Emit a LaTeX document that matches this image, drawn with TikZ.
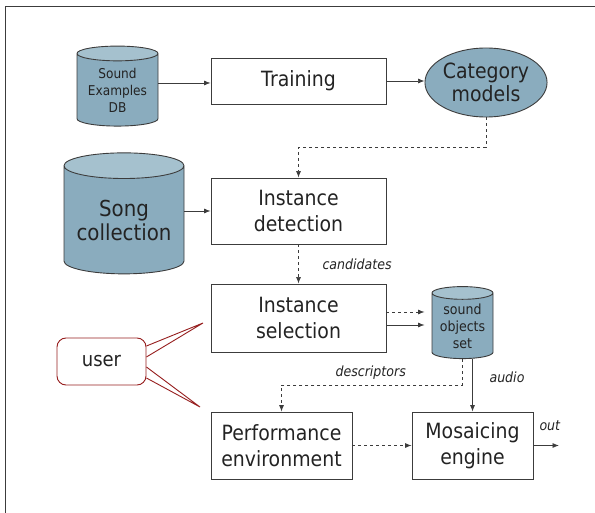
\documentclass[tikz,border=0pt]{standalone}
\usepackage{fontspec}
\setmainfont{DejaVu Sans}[FakeStretch=0.9]
\usetikzlibrary{arrows.meta, positioning, shapes.geometric, calc}
\definecolor{cylblue}{RGB}{138,172,190}
\definecolor{cyltop}{RGB}{165,193,206}
\definecolor{userred}{RGB}{150,30,30}
\definecolor{linegray}{RGB}{60,60,60}
\definecolor{textgray}{RGB}{35,35,35}

\begin{document}
\begin{tikzpicture}[x=1pt, y=-1pt, >={Latex[length=6.5pt,width=5pt]},
  box/.style={draw=linegray, line width=0.9pt, align=center, text=textgray,
    font=\fontsize{21}{26}\selectfont},
  cyl/.style={cylinder, shape border rotate=90, draw=linegray, line width=0.9pt,
    cylinder uses custom fill, cylinder body fill=cylblue, cylinder end fill=cyltop,
    align=center, text=textgray, inner sep=0pt},
  flow/.style={->, linegray, line width=0.7pt},
  dflow/.style={flow, dashed},
  lbl/.style={font=\itshape\fontsize{14}{16}\selectfont, text=textgray, anchor=base west}]
  \useasboundingbox (0,0) rectangle (595,513);
  \draw[linegray, line width=0.9pt] (5,513) -- (5,6) -- (595,6);

  % nodes
  \node[cyl, aspect=0.25, minimum width=81pt, minimum height=80pt,
    font=\fontsize{13.5}{17}\selectfont] (db) at (117.5,90) {Sound\\Examples\\DB};
  \node[box, minimum width=175pt, minimum height=46pt] (train) at (298.5,81) {Training};
  \node[box, ellipse, fill=cylblue, minimum width=108pt, minimum height=69pt, inner sep=0pt,
    font=\fontsize{21}{23}\selectfont] (cat) at (486,82.5) {Category\\models};
  \node[cyl, aspect=0.27, minimum width=120pt, minimum height=121pt,
    font=\fontsize{22}{24}\selectfont] (song) at (124,220) {Song\\collection};
  \node[box, minimum width=175pt, minimum height=66pt] (det) at (298.5,211) {Instance\\detection};
  \node[box, minimum width=175pt, minimum height=68pt] (sel) at (298.5,318) {Instance\\selection};
  \node[cyl, aspect=0.28, minimum width=61pt, minimum height=72pt,
    font=\fontsize{14}{17}\selectfont] (sob) at (462.5,326) {sound\\objects\\set};
  \node[box, draw=userred, rounded corners=9pt, minimum width=89pt, minimum height=47pt,
    font=\fontsize{20}{24}\selectfont] (user) at (101.5,361.5) {user};
  \node[box, minimum width=141pt, minimum height=67pt] (perf) at (281.5,445.5) {Performance\\environment};
  \node[box, minimum width=121pt, minimum height=67pt] (mos) at (472.5,445.5) {Mosaicing\\engine};
  \coordinate (out) at (559,445.5);
  \coordinate (selTip) at (203,323);
  \coordinate (perfTip) at (200,407);

  % connectors
  \draw[flow] (db.east |- 0,83) -- (train.west |- 0,83);
  \draw[flow] (train.east) -- (train.east -| cat.west);
  \draw[dflow] (cat.south) -- ++(0,30) -| (det.north);
  \draw[flow] (song.east |- det.west) -- (det.west);
  \draw[dflow] (det) -- (sel);
  \draw[dflow, shorten >=7pt] ($(sel.east)+(0,-6)$) -- ($(sel.east -| sob.west)+(0,-6)$);
  \draw[flow, shorten >=7pt] ($(sel.east)+(0,7)$) -- ($(sel.east -| sob.west)+(0,7)$);
  \draw[dflow] (sob.south) -- (sob.south |- 0,385) -| (perf.north);
  \draw[flow] (mos.north |- sob.south) -- (mos.north);
  \draw[dflow] (perf) -- (mos);
  \draw[flow] (mos.east) -- (out);

  % user callouts
  \draw[userred, line width=0.9pt] ($(user.east)+(0,-15.5)$) -- (selTip) -- ($(user.east)+(0,-4.5)$);
  \draw[userred, line width=0.9pt] ($(user.east)+(0,5.5)$) -- (perfTip) -- ($(user.east)+(0,16.5)$);

  % labels
  \node[lbl] at (319,270) {candidates};
  \node[lbl] at (332,377) {descriptors};
  \node[lbl] at (486,382) {audio};
  \node[lbl] at (536,430) {out};
\end{tikzpicture}
\end{document}
